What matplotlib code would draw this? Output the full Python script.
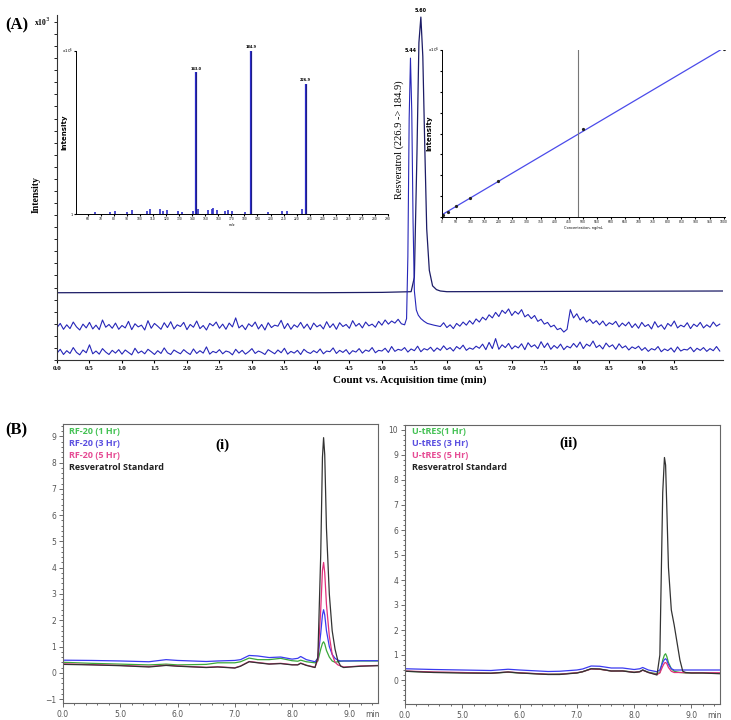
import matplotlib.pyplot as plt
import numpy as np
from matplotlib.ticker import MultipleLocator, FixedLocator, NullFormatter
import matplotlib.transforms as mtrans

W, H = 731, 720

## ---- panel A: MRM chromatogram (counts x10^3) ----
# smooth trace with the 5.60 peak
a_top_t = [0.0, 2.0, 4.0, 5.0, 5.45, 5.50, 5.54, 5.57, 5.60, 5.63, 5.66, 5.69, 5.73, 5.78, 5.84, 5.90, 6.0, 8.0, 10.25]
a_top_y = [19.5, 19.6, 19.5, 19.6, 19.8, 24.0, 60.0, 92.0, 99.4, 88.0, 62.0, 38.0, 26.0, 21.5, 20.4, 20.0, 19.8, 19.9, 20.0]

# noisy trace with the 5.44 peak, 0.05 min steps
a_mid_base = [9.4, 10.6, 8.9, 10.2, 9.1, 11.0, 9.6, 8.7, 10.4, 9.3, 10.9, 9.0, 10.1, 8.8, 11.6, 9.5, 10.3, 9.2, 10.7, 8.9,
              10.0, 9.3, 11.2, 8.8, 10.5, 9.6, 10.1, 8.7, 11.4, 9.2, 10.6, 9.8, 8.9, 10.8, 9.4, 11.1, 9.0, 10.2, 9.7, 10.9,
              8.8, 10.3, 9.5, 11.3, 9.1, 10.0, 8.7, 10.6, 9.9, 11.0, 9.2, 10.4, 8.9, 10.7, 9.6, 12.2, 9.3, 10.1, 8.8, 10.5,
              9.7, 11.0, 9.0, 10.3, 8.7, 10.8, 9.4, 10.1, 9.8, 11.5, 9.1, 10.6, 8.9, 10.2, 9.5, 10.9, 9.2, 10.4, 8.8, 10.7,
              9.6, 10.2, 9.0, 11.1, 9.4, 10.5, 8.9, 10.8, 9.7, 10.3, 9.2, 11.4, 9.8, 10.6, 9.3, 11.0, 9.9, 10.4, 9.5, 11.2,
              10.1, 11.6, 10.4, 11.3, 10.7, 11.8, 10.5]
a_mid_peak_t = [5.35, 5.38, 5.40, 5.42, 5.44, 5.46, 5.48, 5.50, 5.53, 5.56, 5.60, 5.65, 5.70, 5.80]
a_mid_peak_y = [10.2, 12.0, 30.0, 70.0, 87.5, 72.0, 40.0, 20.0, 14.5, 13.0, 12.0, 11.2, 10.6, 10.1]
a_mid_tail = [9.7, 10.8, 9.4, 10.2, 9.1, 10.6, 9.8, 11.0, 10.1, 11.4, 10.4, 11.9, 11.0, 12.4, 11.6, 13.1, 12.2, 13.8, 12.6, 14.4,
              13.5, 14.8, 12.9, 14.1, 13.3, 14.6, 12.5, 13.2, 12.0, 12.9, 11.2, 11.8, 10.4, 10.9, 9.6, 10.1, 8.8, 9.2, 8.1, 8.9,
              14.6, 12.2, 13.4, 11.6, 12.5, 11.0, 11.8, 10.6, 11.4, 10.2, 11.3, 9.9, 10.8, 10.3, 11.2, 9.6, 10.7, 9.9, 11.0, 9.4,
              10.5, 9.2, 10.9, 9.7, 10.3, 9.0, 11.1, 9.5, 10.2, 8.9, 10.6, 9.8, 11.3, 9.3, 10.1, 9.6, 10.8, 9.1, 10.4, 9.7,
              10.9, 9.3, 10.2, 9.5, 11.0, 9.8, 10.4]

# bottom noisy trace (blank), 0.05 min steps
a_bot = [2.0, 3.1, 1.6, 2.7, 1.9, 3.6, 2.2, 1.5, 2.9, 2.1, 4.4, 1.8, 2.6, 1.7, 3.3, 2.3, 1.6, 2.8, 2.0, 3.0,
         1.7, 2.9, 2.2, 1.5, 3.4, 2.0, 2.6, 1.8, 3.1, 2.4, 1.6, 2.7, 1.9, 3.5, 2.1, 1.6, 2.9, 2.3, 1.8, 3.0,
         2.2, 1.6, 3.2, 1.9, 2.7, 2.0, 3.8, 1.7, 2.5, 2.1, 3.0, 1.8, 2.6, 2.3, 1.5, 3.1, 2.0, 2.8, 1.7, 2.4,
         3.3, 1.9, 2.6, 2.2, 1.6, 3.0, 2.4, 1.8, 2.9, 2.1, 3.4, 1.7, 2.5, 2.0, 2.8, 1.6, 3.1, 2.3, 1.9, 2.7,
         2.1, 3.2, 1.8, 2.6, 2.4, 3.5, 1.9, 2.8, 2.2, 3.0, 1.7, 2.7, 2.3, 3.3, 2.0, 2.9, 2.5, 3.6, 2.1, 2.8,
         2.6, 3.4, 2.2, 3.9, 2.5, 3.1, 2.8, 3.6, 2.3, 3.2, 2.7, 4.0, 2.4, 3.3, 2.9, 3.7, 2.5, 3.5, 2.8, 4.1,
         3.0, 3.6, 2.6, 3.9, 3.2, 4.3, 2.8, 3.5, 3.1, 4.0, 3.4, 4.6, 3.0, 5.1, 3.3, 6.2, 3.1, 4.4, 3.6, 4.8,
         3.2, 4.1, 3.5, 4.7, 3.0, 5.0, 3.8, 4.4, 3.3, 5.3, 3.6, 4.9, 3.1, 4.2, 3.4, 4.6, 3.0, 4.0, 3.5, 4.8,
         3.7, 5.2, 3.3, 4.6, 4.0, 5.5, 3.6, 4.3, 3.2, 4.9, 3.8, 4.4, 3.1, 4.7, 3.5, 4.1, 2.9, 3.8, 3.3, 4.0,
         2.8, 3.6, 2.5, 3.3, 2.9, 3.9, 2.4, 3.2, 2.7, 3.5, 2.3, 3.8, 2.6, 3.1, 2.9, 3.7, 2.4, 3.4, 2.8, 3.6,
         2.5, 3.3, 2.7, 3.9, 2.6]

# MS/MS spectrum inset
ms_mz = [143.0, 184.9, 226.9]
ms_int = [0.87, 1.0, 0.80]
ms_minor_mz = [65.9, 77.4, 81.2, 90.3, 94.1, 105.6, 107.9, 115.5, 117.8, 120.9, 129.3, 132.3, 140.7,
               144.5, 152.2, 155.2, 156.0, 159.0, 165.1, 167.4, 170.5, 180.4, 198.0, 208.6, 212.5, 223.9]
ms_minor_int = [0.01, 0.015, 0.02, 0.012, 0.025, 0.02, 0.03, 0.028, 0.02, 0.025, 0.018, 0.015, 0.02,
                0.03, 0.022, 0.03, 0.035, 0.025, 0.02, 0.025, 0.018, 0.015, 0.012, 0.02, 0.018, 0.03]

# calibration inset
cal_conc = [5, 20, 50, 100, 200, 500, 1000]
cal_resp = [0.01, 0.03, 0.064, 0.116, 0.216, 0.526, 1.004]

## ---- panel B: HPLC chromatograms ----
b_t = [4.0, 4.5, 5.0, 5.5, 5.8, 6.0, 6.5, 6.7, 7.0, 7.1, 7.25, 7.4, 7.6, 7.8, 8.0, 8.1, 8.15, 8.25,
       8.4, 8.45, 8.5, 8.53, 8.55, 8.57, 8.6, 8.65, 8.7, 8.75, 8.8, 8.85, 8.9, 9.0, 9.2, 9.5]

bi_green = [0.40, 0.36, 0.33, 0.30, 0.33, 0.30, 0.32, 0.38, 0.38, 0.42, 0.56, 0.50, 0.50, 0.55, 0.46, 0.44, 0.48, 0.42,
            0.38, 0.45, 0.90, 1.12, 1.18, 1.10, 0.85, 0.60, 0.45, 0.40, 0.42, 0.44, 0.45, 0.45, 0.45, 0.45]
bi_blue = [0.48, 0.47, 0.45, 0.42, 0.50, 0.47, 0.43, 0.45, 0.47, 0.50, 0.66, 0.64, 0.58, 0.60, 0.52, 0.55, 0.62, 0.50,
           0.42, 0.55, 1.50, 2.20, 2.40, 2.20, 1.60, 1.00, 0.70, 0.55, 0.48, 0.45, 0.45, 0.45, 0.46, 0.46]
bi_pink = [0.34, 0.31, 0.28, 0.24, 0.29, 0.26, 0.21, 0.23, 0.19, 0.26, 0.43, 0.39, 0.34, 0.36, 0.31, 0.31, 0.37, 0.29,
           0.21, 0.50, 2.40, 3.90, 4.20, 3.80, 2.60, 1.40, 0.70, 0.40, 0.30, 0.26, 0.22, 0.23, 0.26, 0.28]
bi_black = [0.32, 0.30, 0.27, 0.22, 0.28, 0.25, 0.20, 0.22, 0.18, 0.25, 0.42, 0.38, 0.33, 0.35, 0.30, 0.30, 0.36, 0.28,
            0.20, 0.60, 4.50, 8.20, 8.95, 8.30, 5.50, 3.00, 1.60, 0.90, 0.45, 0.25, 0.20, 0.22, 0.25, 0.27]

bii_green = [0.35, 0.31, 0.29, 0.27, 0.31, 0.28, 0.23, 0.24, 0.28, 0.33, 0.45, 0.43, 0.36, 0.37, 0.31, 0.34, 0.40, 0.31,
             0.25, 0.30, 0.80, 1.00, 1.05, 0.95, 0.70, 0.45, 0.35, 0.32, 0.30, 0.29, 0.28, 0.28, 0.28, 0.27]
bii_blue = [0.45, 0.42, 0.40, 0.38, 0.43, 0.40, 0.34, 0.35, 0.40, 0.44, 0.56, 0.55, 0.48, 0.48, 0.42, 0.45, 0.50, 0.40,
            0.33, 0.40, 0.70, 0.82, 0.85, 0.80, 0.62, 0.45, 0.40, 0.40, 0.40, 0.40, 0.40, 0.40, 0.40, 0.40]
bii_pink = [0.36, 0.32, 0.30, 0.27, 0.32, 0.29, 0.23, 0.23, 0.29, 0.33, 0.44, 0.43, 0.36, 0.36, 0.31, 0.33, 0.39, 0.30,
            0.22, 0.28, 0.55, 0.68, 0.70, 0.66, 0.50, 0.35, 0.30, 0.30, 0.30, 0.30, 0.29, 0.29, 0.29, 0.29]
bii_black = [0.35, 0.30, 0.28, 0.27, 0.32, 0.28, 0.22, 0.22, 0.28, 0.33, 0.45, 0.44, 0.36, 0.36, 0.30, 0.33, 0.40, 0.30,
             0.20, 1.00, 7.50, 8.90, 8.60, 7.00, 4.50, 2.80, 2.20, 1.50, 0.80, 0.35, 0.30, 0.28, 0.28, 0.25]

bi_labels = ['RF-20 (1 Hr)', 'RF-20 (3 Hr)', 'RF-20 (5 Hr)', 'Resveratrol Standard']
bii_labels = ['U-tRES(1 Hr)', 'U-tRES (3 Hr)', 'U-tRES (5 Hr)', 'Resveratrol Standard']
b_xtick_pos = [4, 5, 6, 7, 8, 9]
b_xtick_lab = ['0.0', '5.0', '6.0', '7.0', '8.0', '9.0']

trace_cols = ['#3aa83a', '#3a3af0', '#e0307a', '#333333']
label_cols = ['#45c255', '#5a4fe0', '#e64b94', '#222222']
navy = '#1c1c66'
blue = '#2626b8'

SERIF = 'Liberation Serif'


def frac(x0, y0, x1, y1):
    # pixel box -> figure fraction rect
    return [x0 / W, 1 - y1 / H, (x1 - x0) / W, (y1 - y0) / H]


fig = plt.figure(figsize=(W / 100, H / 100), dpi=100)

## main A axes
ax = fig.add_axes(frac(57, 15, 723, 360))
ax.patch.set_alpha(0)
t_base = np.round(np.arange(0.0, 5.32, 0.05), 2)
t_tail = np.round(np.arange(5.9, 10.22, 0.05), 2)
t_full = np.round(np.arange(0.0, 10.22, 0.05), 2)
ax.plot(a_top_t, a_top_y, color=navy, lw=0.9)
ax.plot(np.concatenate([t_base, a_mid_peak_t, t_tail]),
        np.concatenate([a_mid_base, a_mid_peak_y, a_mid_tail]), color=blue, lw=0.8)
ax.plot(t_full, a_bot, color=blue, lw=0.8)
ax.set_xlim(0, 10.25)
ax.set_ylim(0, 100)
for s in ['top', 'right']:
    ax.spines[s].set_visible(False)
for s in ['left', 'bottom']:
    ax.spines[s].set_color('#333333')
    ax.spines[s].set_linewidth(0.8)
ax.xaxis.set_major_locator(FixedLocator(np.arange(0, 10, 0.5)))
ax.set_xticklabels(['%.1f' % v for v in np.arange(0, 10, 0.5)])
ax.tick_params(axis='x', labelsize=5, length=2, pad=2)
for lab in ax.get_xticklabels():
    lab.set_fontfamily(SERIF)
    lab.set_fontweight('bold')
ax.yaxis.set_major_locator(MultipleLocator(3.5))
ax.yaxis.set_major_formatter(NullFormatter())
ax.tick_params(axis='y', length=2, width=0.6)
ax.text(5.44, 89.0, '5.44', fontsize=3.5, fontweight='bold', ha='center', va='bottom', clip_on=False)
ax.text(5.60, 100.6, '5.60', fontsize=3.5, fontweight='bold', ha='center', va='bottom', clip_on=False)
ax.text(5.27, 64, 'Resveratrol (226.9 -> 184.9)', rotation=90, ha='center', va='center',
        fontsize=7.5, family=SERIF)

fig.text(5 / W, 1 - 25 / H, '(A)', fontsize=12, fontweight='bold', family=SERIF, va='center')
fig.text(34 / W, 1 - 22 / H, 'x10$^3$', fontsize=5.5, fontweight='bold', family=SERIF, va='center')
fig.text(36 / W, 1 - 195 / H, 'Intensity', rotation=90, fontsize=7, fontweight='bold', family=SERIF,
         ha='center', va='center')
fig.text(410 / W, 1 - 380 / H, 'Count vs. Acquisition time (min)', fontsize=8, fontweight='bold',
         family=SERIF, ha='center', va='center')

## MS spectrum inset
ai = fig.add_axes(frac(76, 51, 388, 214))
ai.patch.set_alpha(0)
ai.vlines(ms_minor_mz, 0, ms_minor_int, color='#3030c8', lw=1.2)
ai.vlines(ms_mz, 0, ms_int, color='#2a2acc', lw=1.6)
ai.vlines(ms_mz, 0, ms_int, color=navy, lw=0.5)
for m, h in zip(ms_mz, ms_int):
    ai.text(m, h + 0.01, '%.1f' % m, fontsize=2.5, fontweight='bold', ha='center', va='bottom')
ai.set_xlim(51, 290)
ai.set_ylim(0, 1.0)
for s in ['top', 'right']:
    ai.spines[s].set_visible(False)
for s in ['left', 'bottom']:
    ai.spines[s].set_linewidth(0.7)
ai.xaxis.set_major_locator(MultipleLocator(10))
ai.tick_params(axis='x', labelsize=2.2, length=1.5, pad=1)
ai.set_yticks([0, 1.0])
ai.set_yticklabels(['1', ''])
ai.tick_params(axis='y', labelsize=2.5, length=1.5, pad=1)
ai.set_xlabel('m/z', fontsize=2.5, labelpad=1)
ai.set_ylabel('Intensity', fontsize=5, fontweight='bold', labelpad=2)
ai.text(-0.01, 1.0, 'x10$^5$', transform=ai.transAxes, fontsize=3, ha='right', va='center')

## calibration inset
ac = fig.add_axes(frac(442, 50, 725, 217))
ac.patch.set_alpha(0)
slope, icpt = np.polyfit(cal_conc, cal_resp, 1)
xx = np.array([0, 1000])
ac.plot(xx, slope * xx + icpt, color='#4b4bea', lw=0.9)
ac.plot(cal_conc, cal_resp, 'o', color='#222222', ms=1.3)
ac.axvline(484, color='#777777', lw=0.8)
ac.set_xlim(0, 1005)
ac.set_ylim(0, 1.0)
for s in ['top', 'right']:
    ac.spines[s].set_visible(False)
for s in ['left', 'bottom']:
    ac.spines[s].set_linewidth(0.7)
ac.xaxis.set_major_locator(MultipleLocator(50))
ac.tick_params(axis='x', labelsize=2.2, length=1.5, pad=1)
ac.yaxis.set_major_locator(MultipleLocator(0.125))
ac.yaxis.set_major_formatter(NullFormatter())
ac.tick_params(axis='y', length=1.5)
ac.set_xlabel('Concentration, ng/mL', fontsize=2.5, labelpad=1)
ac.set_ylabel('Intensity', fontsize=5, fontweight='bold', labelpad=2)
ac.text(-0.01, 1.0, 'x10$^6$', transform=ac.transAxes, fontsize=3, ha='right', va='center')


## panel B
def chrom(rect, series, labels, ylim, lab_xy, tag, tag_xy):
    axb = fig.add_axes(frac(*rect))
    for ys, c in zip(series, trace_cols):
        axb.plot(b_t, ys, color=c, lw=0.9)
    axb.set_xlim(4.0, 9.5)
    axb.set_ylim(*ylim)
    for s in axb.spines.values():
        s.set_color('#666666')
        s.set_linewidth(0.8)
    axb.set_xticks(b_xtick_pos)
    axb.set_xticklabels(b_xtick_lab)
    axb.xaxis.set_minor_locator(MultipleLocator(0.2))
    axb.yaxis.set_major_locator(MultipleLocator(1))
    axb.yaxis.set_minor_locator(MultipleLocator(0.2))
    axb.tick_params(which='both', colors='#555555', labelsize=5.5, width=0.6)
    axb.tick_params(which='major', length=3, pad=2)
    axb.tick_params(which='minor', length=1.5)
    tr = mtrans.blended_transform_factory(axb.transData, axb.transAxes)
    axb.text(9.4, -0.025, 'min', transform=tr, fontsize=5.5, color='#555555', ha='center', va='top')
    for i, (lab, c) in enumerate(zip(labels, label_cols)):
        fig.text(lab_xy[0] / W, 1 - (lab_xy[1] + 12 * i) / H, lab, color=c, fontsize=6.5,
                 fontweight='bold', family='Open Sans', va='center')
    fig.text(tag_xy[0] / W, 1 - tag_xy[1] / H, tag, fontsize=11, fontweight='bold', family=SERIF,
             ha='center', va='center')
    return axb


chrom((63, 424, 378, 703), [bi_green, bi_blue, bi_pink, bi_black], bi_labels, (-1.15, 9.47),
      (69, 431), '(i)', (222, 445))
chrom((405, 425, 720, 704), [bii_green, bii_blue, bii_pink, bii_black], bii_labels, (-0.96, 10.2),
      (412, 432), '(ii)', (569, 443))
fig.text(5 / W, 1 - 430 / H, '(B)', fontsize=12, fontweight='bold', family=SERIF, va='center')

fig.savefig('out.png', dpi=100)
